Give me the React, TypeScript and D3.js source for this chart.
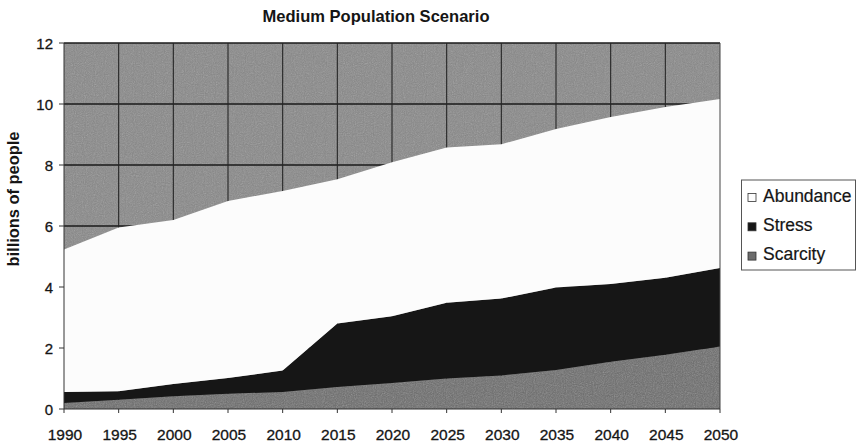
import React from 'react';
import * as d3 from 'd3';

const years = [1990, 1995, 2000, 2005, 2010, 2015, 2020, 2025, 2030, 2035, 2040, 2045, 2050];
const scarcity = [0.2, 0.3, 0.42, 0.5, 0.56, 0.72, 0.85, 1.0, 1.1, 1.28, 1.55, 1.78, 2.05];
const stress = [0.36, 0.28, 0.4, 0.52, 0.7, 2.08, 2.19, 2.48, 2.52, 2.7, 2.55, 2.52, 2.57];
const abundance = [4.67, 5.37, 5.38, 5.8, 5.89, 4.73, 5.05, 5.09, 5.06, 5.2, 5.47, 5.6, 5.54];
const yTicks = [0, 2, 4, 6, 8, 10, 12];
const seriesNames = ['Scarcity', 'Stress', 'Abundance'];
const legendOrder = ['Abundance', 'Stress', 'Scarcity'];

const colors: Record<string, string> = {
  Scarcity: '#6c6c6c',
  Stress: '#161616',
  Abundance: '#fcfcfc',
};

const W = 859;
const H = 445;
const left = 64;
const right = 720;
const top = 43;
const bottom = 409;

const App = () => {
  const x = d3.scaleLinear().domain([1990, 2050]).range([left, right]);
  const y = d3.scaleLinear().domain([0, 12]).range([bottom, top]);

  // stack the three series, bottom to top
  const rows = years.map((yr, i) => ({
    year: yr,
    Scarcity: scarcity[i],
    Stress: stress[i],
    Abundance: abundance[i],
  }));
  const stacked = d3.stack<any>().keys(seriesNames)(rows);

  const area = d3
    .area<any>()
    .x((d) => x(d.data.year))
    .y0((d) => y(d[0]))
    .y1((d) => y(d[1]));

  const font = 'Arial, "Liberation Sans", sans-serif';
  const ink = '#151515';

  return (
    <svg width={W} height={H} style={{ position: 'absolute', left: 0, top: 0, background: '#fff' }}>
      <defs>
        <filter id="grain" x="0" y="0" width="100%" height="100%">
          <feTurbulence type="fractalNoise" baseFrequency="0.9" numOctaves="2" seed="3" result="n" />
          <feColorMatrix type="saturate" values="0" in="n" result="g" />
          <feComponentTransfer in="g" result="g2">
            <feFuncA type="linear" slope="0.3" />
          </feComponentTransfer>
          <feComposite in="g2" in2="SourceGraphic" operator="in" result="m" />
          <feMerge>
            <feMergeNode in="SourceGraphic" />
            <feMergeNode in="m" />
          </feMerge>
        </filter>
      </defs>

      {/* title */}
      <text
        x={376}
        y={22}
        textAnchor="middle"
        fontFamily='"Liberation Sans Narrow", "Arial Narrow", Arial, sans-serif'
        fontWeight="bold"
        fontSize={17}
        textLength={227}
        lengthAdjust="spacingAndGlyphs"
        fill={ink}
      >
        Medium Population Scenario
      </text>

      {/* plot background */}
      <rect x={left} y={top} width={right - left} height={bottom - top} fill="#888" filter="url(#grain)" />

      {/* gridlines */}
      {yTicks.slice(1).map((t) => (
        <line key={'h' + t} x1={left} x2={right} y1={y(t)} y2={y(t)} stroke="#1a1a1a" strokeWidth={1.3} />
      ))}
      {years.slice(1, -1).map((yr) => (
        <line key={'v' + yr} x1={x(yr)} x2={x(yr)} y1={top} y2={bottom} stroke="#262626" strokeWidth={1.1} />
      ))}

      {/* stacked areas */}
      {stacked.map((s) => (
        <path
          key={s.key}
          d={area(s) || ''}
          fill={colors[s.key]}
          filter={s.key === 'Scarcity' ? 'url(#grain)' : undefined}
        />
      ))}

      {/* frame */}
      <line x1={right} x2={right} y1={top} y2={bottom} stroke="#444" strokeWidth={1} />
      <line x1={left} x2={left} y1={top} y2={bottom} stroke="#333" strokeWidth={1} />
      <line x1={left} x2={right} y1={bottom} y2={bottom} stroke="#333" strokeWidth={1} />

      {/* y axis */}
      {yTicks.map((t) => (
        <g key={'yt' + t}>
          <line x1={left - 5} x2={left} y1={y(t)} y2={y(t)} stroke="#333" />
          <text
            x={53}
            y={y(t) + 5.5}
            textAnchor="end"
            fontFamily={font}
            fontSize={15}
            fill={ink}
            stroke={ink}
            strokeWidth={0.3}
          >
            {t}
          </text>
        </g>
      ))}
      <text
        transform="translate(19,199) rotate(-90)"
        textAnchor="middle"
        fontFamily={font}
        fontWeight="bold"
        fontSize={16}
        textLength={135}
        lengthAdjust="spacingAndGlyphs"
        fill={ink}
      >
        billions of people
      </text>

      {/* x axis */}
      {years.map((yr) => (
        <g key={'xt' + yr}>
          <line x1={x(yr)} x2={x(yr)} y1={bottom} y2={bottom + 4} stroke="#333" />
          <text
            x={x(yr) + 1}
            y={440}
            textAnchor="middle"
            fontFamily={font}
            fontSize={15.5}
            fill={ink}
            stroke={ink}
            strokeWidth={0.3}
          >
            {yr}
          </text>
        </g>
      ))}

      {/* legend */}
      <rect x={741.5} y={180} width={114} height={90} fill="#fff" stroke="#555" strokeWidth={1} />
      {legendOrder.map((name, i) => (
        <g key={name}>
          <rect
            x={748}
            y={193.5 + i * 29.3}
            width={8}
            height={8}
            fill={colors[name]}
            stroke="#333"
            strokeWidth={0.8}
          />
          <text
            x={763}
            y={201.5 + i * 29.3}
            fontFamily={font}
            fontSize={17.5}
            fill={ink}
            stroke={ink}
            strokeWidth={0.2}
          >
            {name}
          </text>
        </g>
      ))}
    </svg>
  );
};

export default App;
